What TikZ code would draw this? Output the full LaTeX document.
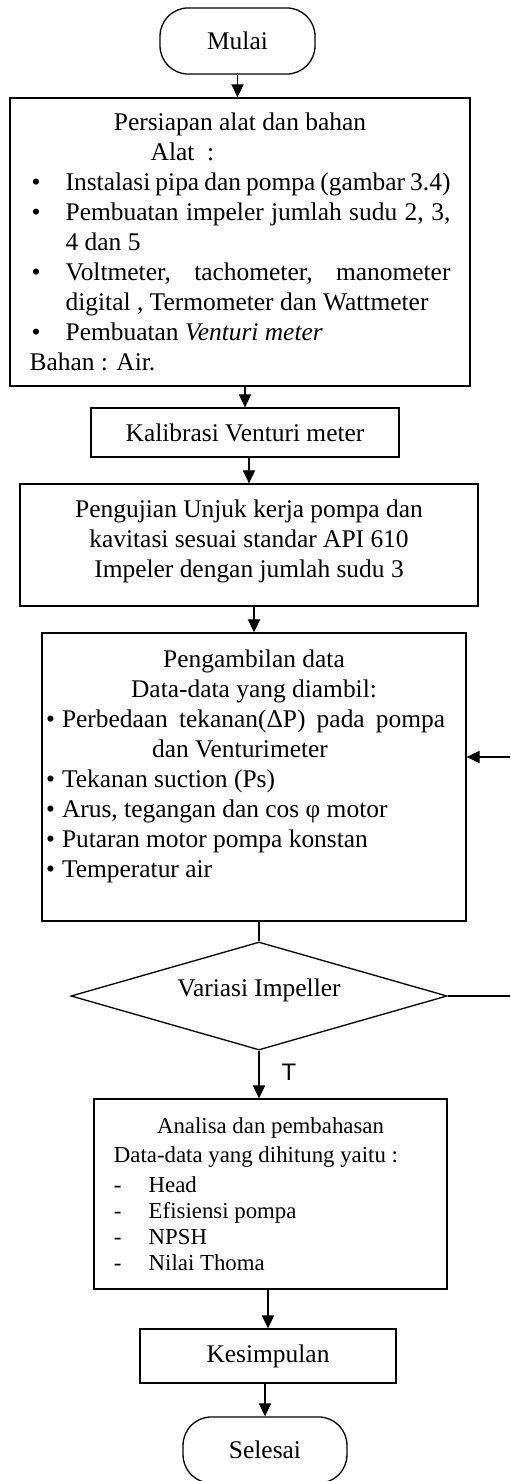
\documentclass[tikz,border=0pt]{standalone}
\usepackage{fontspec}
\setmainfont{Liberation Serif}
\newfontfamily\sansfont{Liberation Sans}
\usetikzlibrary{shapes.geometric,arrows.meta}

\newcommand{\butir}[2]{\par\noindent\hangindent=#1\hangafter=1\makebox[#1][l]{\hspace{1pt}\textbullet}#2\par}

\begin{document}
\begin{tikzpicture}[x=0.46pt, y=-0.46pt, line width=0.6pt,
    font=\fontsize{11.7}{13.8}\selectfont,
    >={Triangle[length=6pt,width=5.6pt]},
    terminal/.style={draw, rectangle, rounded corners=13pt, minimum width=71.3pt, minimum height=30.4pt},
    proses/.style={draw, rectangle, inner sep=0pt}]
    \useasboundingbox (0,0) rectangle (510,1481);
    \clip (0,0) rectangle (510,1481);

    \node (mulai) [terminal] at (237.5,41) {Mulai};
    \node (persiapan) [proses, minimum width=211.6pt, minimum height=132.5pt, text width=193.6pt, align=justify] at (240,242) {%
        {\centering Persiapan alat dan bahan\par}
        \noindent\hspace*{55.7pt}Alat\ \ :\par
        \butir{16.6pt}{Instalasi pipa dan pompa (gambar 3.4)}
        \butir{16.6pt}{Pembuatan impeler jumlah sudu 2, 3,\linebreak 4 dan 5}
        \butir{16.6pt}{Voltmeter, tachometer, manometer\linebreak digital , Termometer dan Wattmeter}
        \butir{16.6pt}{Pembuatan \textit{Venturi meter}}
        \noindent Bahan : Air.\par};
    \node (kalibrasi) [proses, minimum width=141.7pt, minimum height=22.5pt] at (245,432.5) {Kalibrasi Venturi meter};
    \node (pengujian) [proses, minimum width=210.7pt, minimum height=56.1pt, align=center] at (249,545) {Pengujian Unjuk kerja pompa dan\\kavitasi sesuai standar API 610\\Impeler dengan jumlah sudu 3\\[-8pt]\mbox{}};
    \node (pengambilan) [proses, minimum width=195pt, minimum height=132.5pt, text width=193.2pt, align=justify] at (254,777) {%
        {\centering Pengambilan data\par Data-data yang diambil:\par}
        {\rightskip=8.7pt \parfillskip=0pt \noindent\makebox[8.3pt][l]{\hspace{1pt}\textbullet}Perbedaan\hfill tekanan(ΔP)\hfill pada\hfill pompa\par}
        \noindent\hspace*{49.7pt}dan Venturimeter\par
        \butir{8.3pt}{Tekanan suction (Ps)}
        \butir{8.3pt}{Arus, tegangan dan cos φ motor}
        \butir{8.3pt}{Putaran motor pompa konstan}
        \butir{8.3pt}{Temperatur air}
        \vspace{-1.6pt}\noindent\mbox{}\par};
    \node (variasi) [draw, diamond, aspect=3.5, inner sep=0pt, minimum width=173pt, minimum height=49.7pt, text height=8pt, text depth=8pt] at (259,996) {Variasi Impeller};
    \node (labelT) [font=\sansfont\fontsize{11}{13}\selectfont] at (289,1072) {T};
    \node (analisa) [proses, minimum width=162.4pt, minimum height=87.4pt, text width=144pt, align=justify, font=\fontsize{10.5}{12}\selectfont] at (270.5,1194) {%
        {\centering Analisa dan pembahasan\par}
        \vspace{1.5pt}
        \noindent Data-data yang dihitung yaitu :\par
        \vspace{1.5pt}
        \noindent\makebox[16pt][l]{-}Head\par
        \noindent\makebox[16pt][l]{-}Efisiensi pompa\par
        \noindent\makebox[16pt][l]{-}NPSH\par
        \noindent\makebox[16pt][l]{-}Nilai Thoma\par};
    \node (kesimpulan) [proses, minimum width=117.8pt, minimum height=24.8pt] at (268,1356) {Kesimpulan};
    \node (selesai) [terminal, minimum width=75.4pt] at (265,1450) {Selesai};
    \coordinate (balik) at (512,757);

    \draw[->] (mulai) -- (mulai |- persiapan.north);
    \draw[->] (persiapan.south -| kalibrasi) -- (kalibrasi.north);
    \draw[->] (kalibrasi.south -| pengujian) -- (pengujian.north);
    \draw[->] (pengujian.south -| pengambilan) -- (pengambilan.north);
    \draw (pengambilan.south -| variasi) -- (variasi.north);
    \draw[->] (variasi.south) -- (variasi.south |- analisa.north);
    \draw[->] (analisa.south -| kesimpulan) -- (kesimpulan.north);
    \draw[->] (kesimpulan.south -| selesai) -- (selesai.north);
    \draw[->] (variasi.east) -| (balik) -- (balik -| pengambilan.east);
\end{tikzpicture}
\end{document}
